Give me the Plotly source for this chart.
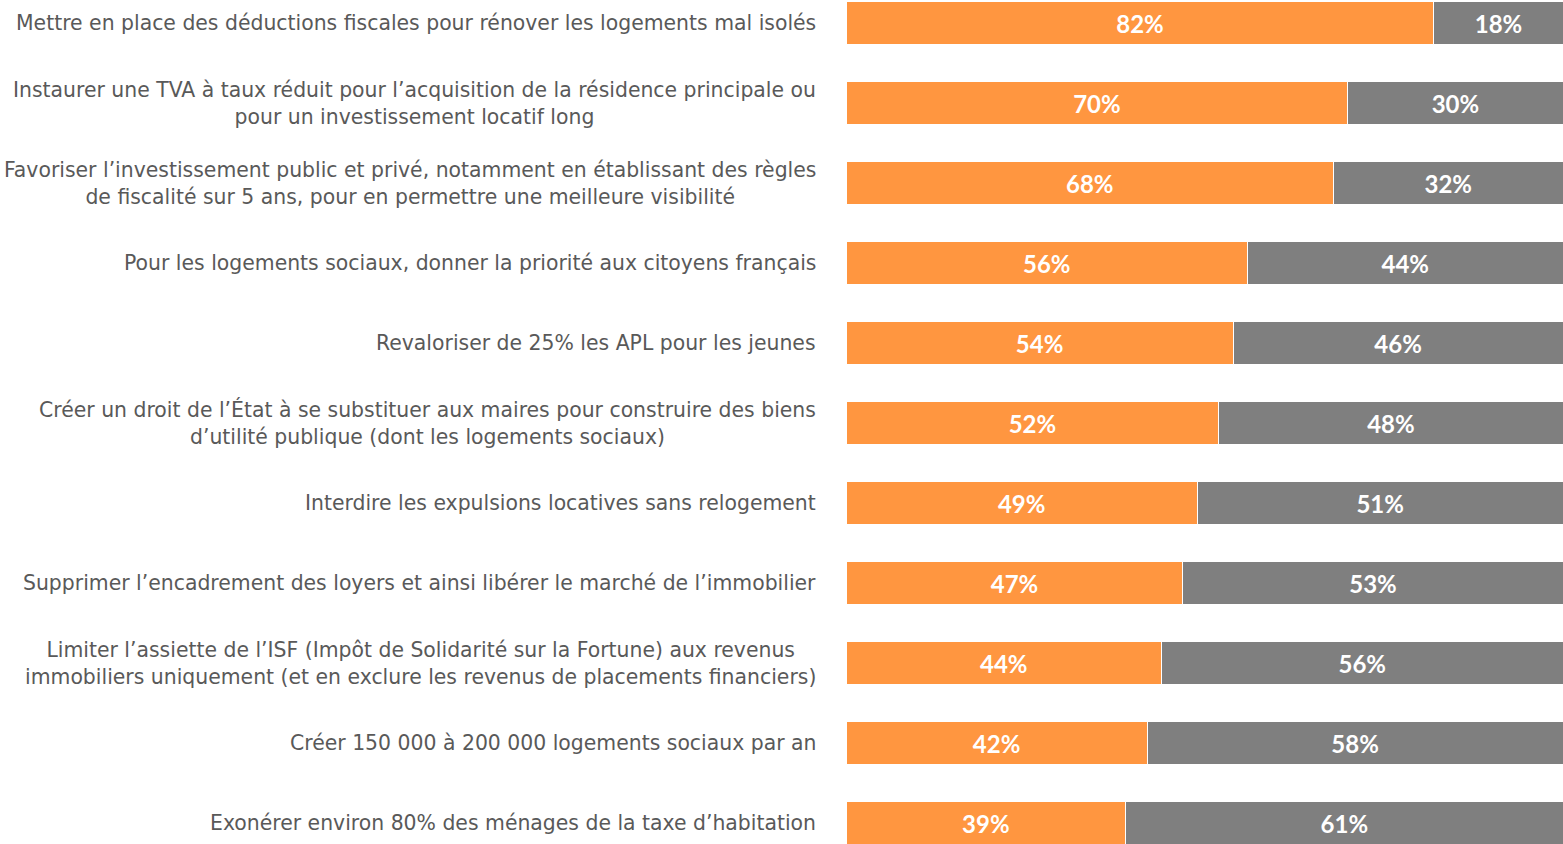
import plotly.graph_objects as go

categories = [
    "Mettre en place des déductions fiscales pour rénover les logements mal isolés",
    "Instaurer une TVA à taux réduit pour l’acquisition de la résidence principale ou<br>pour un investissement locatif long",
    "Favoriser l’investissement public et privé, notamment en établissant des règles<br>de fiscalité sur 5 ans, pour en permettre une meilleure visibilité",
    "Pour les logements sociaux, donner la priorité aux citoyens français",
    "Revaloriser de 25% les APL pour les jeunes",
    "Créer un droit de l’État à se substituer aux maires pour construire des biens<br>d’utilité publique (dont les logements sociaux)",
    "Interdire les expulsions locatives sans relogement",
    "Supprimer l’encadrement des loyers et ainsi libérer le marché de l’immobilier",
    "Limiter l’assiette de l’ISF (Impôt de Solidarité sur la Fortune) aux revenus<br>immobiliers uniquement (et en exclure les revenus de placements financiers)",
    "Créer 150 000 à 200 000 logements sociaux par an",
    "Exonérer environ 80% des ménages de la taxe d’habitation",
]
oui = [82, 70, 68, 56, 54, 52, 49, 47, 44, 42, 39]
non = [18, 30, 32, 44, 46, 48, 51, 53, 56, 58, 61]

ORANGE = "#FF9640"
GRAY = "#7F7F7F"
LABEL_FONT = "DejaVu Sans"
VALUE_FONT = "Lato"

fig = go.Figure()
for vals, col in [(oui, ORANGE), (non, GRAY)]:
    fig.add_trace(go.Bar(
        y=categories, x=vals, orientation="h",
        marker=dict(color=col, line=dict(color="white", width=1)),
        width=0.53,
        text=[f"{v}%" for v in vals],
        textposition="inside", insidetextanchor="middle",
        textfont=dict(family=VALUE_FONT, size=24, color="white", weight="bold"),
        cliponaxis=False,
        hoverinfo="skip",
    ))

for c in categories:
    fig.add_annotation(
        x=0, xref="paper", y=c, yref="y", text=c, showarrow=False,
        xanchor="right", yanchor="middle", align="center", xshift=-28,
        font=dict(family=LABEL_FONT, size=20.4, color="#595959"),
    )

fig.update_layout(
    barmode="stack", bargap=0,
    width=1563, height=844,
    margin=dict(l=846, r=0, t=0, b=0),
    paper_bgcolor="white", plot_bgcolor="white",
    showlegend=False,
    xaxis=dict(range=[0, 100], visible=False, fixedrange=True),
    yaxis=dict(range=[10.2625, -0.2875], showticklabels=False, showgrid=False,
               zeroline=False, showline=False, ticks="", fixedrange=True),
    uniformtext=dict(minsize=8, mode="show"),
)

fig.write_html(
    "out.html",
    config={"displayModeBar": False, "staticPlot": True},
    post_script="document.body.style.margin='0';document.body.style.overflow='hidden';",
)
